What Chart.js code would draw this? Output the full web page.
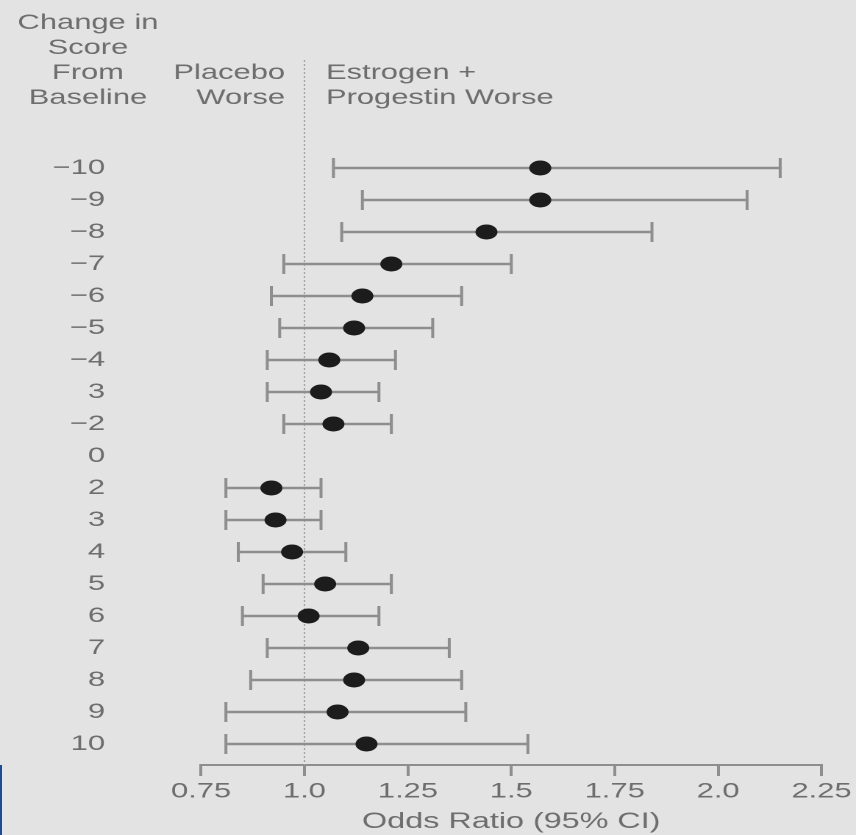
<!DOCTYPE html>
<html>
<head>
<meta charset="utf-8">
<script src="https://cdn.jsdelivr.net/npm/chart.js@4.4.1/dist/chart.umd.min.js"></script>
<style>
  html, body { margin: 0; padding: 0; background: #e3e3e3; overflow: hidden; width: 856px; height: 835px; }
  #wrap { position: absolute; left: 0; top: 0; width: 582px; height: 835px; transform: scaleX(1.4708); transform-origin: 0 0; }
  #c { display: block; }
  #edge { position: absolute; left: 0; top: 765px; width: 2px; height: 70px; background: #1b4b9b; }
</style>
</head>
<body>
<div id="wrap"><canvas id="c" width="582" height="835"></canvas></div>
<div id="edge"></div>
<script>
// ---- data ----
const categories = ["\u221210","\u22129","\u22128","\u22127","\u22126","\u22125","\u22124","3","\u22122","0","2","3","4","5","6","7","8","9","10"];
const oddsRatio = [1.57,1.57,1.44,1.21,1.14,1.12,1.06,1.04,1.07,null,0.92,0.93,0.97,1.05,1.01,1.13,1.12,1.08,1.15];
const ciLow     = [1.07,1.14,1.09,0.95,0.92,0.94,0.91,0.91,0.95,null,0.81,0.81,0.84,0.90,0.85,0.91,0.87,0.81,0.81];
const ciHigh    = [2.15,2.07,1.84,1.50,1.38,1.31,1.22,1.18,1.21,null,1.04,1.04,1.10,1.21,1.18,1.35,1.38,1.39,1.54];
const xTicks = [0.75,1.0,1.25,1.5,1.75,2.0,2.25];
const xTickLabels = ["0.75","1.0","1.25","1.5","1.75","2.0","2.25"];
const headerLeft = ["Change in","Score","From","Baseline"];
const headerMid = ["Placebo","Worse"];
const headerRight = ["Estrogen +","Progestin Worse"];
const xTitle = "Odds Ratio (95% CI)";
const refValue = 1.0;

const FONT = '"Liberation Sans", Arial, Helvetica, sans-serif';
const TEXT = '#6e6e6e';
const BAR = '#8e8e8e';

const points = [];
oddsRatio.forEach((v, i) => { if (v !== null) points.push({x: v, y: i}); });

const bgPlugin = {
  id: 'bg',
  beforeDraw(chart) {
    const ctx = chart.ctx;
    ctx.save();
    ctx.fillStyle = '#e3e3e3';
    ctx.fillRect(0, 0, chart.width, chart.height);
    ctx.restore();
  }
};

const refLinePlugin = {
  id: 'refLine',
  beforeDatasetsDraw(chart) {
    const ctx = chart.ctx, xs = chart.scales.x;
    const px = xs.getPixelForValue(refValue);
    ctx.save();
    ctx.strokeStyle = '#a4a4a4';
    ctx.lineWidth = 1;
    ctx.setLineDash([2, 2]);
    ctx.beginPath();
    ctx.moveTo(px, 60);
    ctx.lineTo(px, chart.chartArea.bottom);
    ctx.stroke();
    ctx.restore();
  }
};

const errorBarPlugin = {
  id: 'errorBars',
  beforeDatasetsDraw(chart) {
    const ctx = chart.ctx, xs = chart.scales.x, ys = chart.scales.y;
    ctx.save();
    ctx.strokeStyle = BAR;
    ctx.lineCap = 'butt';
    for (let i = 0; i < categories.length; i++) {
      if (ciLow[i] === null) continue;
      const y = ys.getPixelForValue(i);
      const x1 = xs.getPixelForValue(ciLow[i]);
      const x2 = xs.getPixelForValue(ciHigh[i]);
      ctx.lineWidth = 2.5;
      ctx.beginPath();
      ctx.moveTo(x1, y); ctx.lineTo(x2, y);
      ctx.stroke();
      ctx.lineWidth = 2;
      ctx.beginPath();
      ctx.moveTo(x1, y - 10); ctx.lineTo(x1, y + 10);
      ctx.moveTo(x2, y - 10); ctx.lineTo(x2, y + 10);
      ctx.stroke();
    }
    ctx.restore();
  }
};

const headerPlugin = {
  id: 'header',
  afterDraw(chart) {
    const ctx = chart.ctx;
    ctx.save();
    ctx.fillStyle = TEXT;
    ctx.font = '21px ' + FONT;
    ctx.textBaseline = 'middle';
    const lineY = (k) => 23 + 25 * k;
    ctx.textAlign = 'center';
    headerLeft.forEach((t, k) => ctx.fillText(t, 59.8, lineY(k)));
    ctx.textAlign = 'right';
    headerMid.forEach((t, k) => ctx.fillText(t, 193.8, lineY(k + 2)));
    ctx.textAlign = 'left';
    headerRight.forEach((t, k) => ctx.fillText(t, 221.6, lineY(k + 2)));
    ctx.restore();
  }
};

new Chart(document.getElementById('c'), {
  type: 'scatter',
  data: {
    datasets: [{
      data: points,
      backgroundColor: '#1c1c1c',
      borderWidth: 0,
      pointRadius: 7.5,
      pointHoverRadius: 7.5
    }]
  },
  options: {
    responsive: false,
    animation: false,
    devicePixelRatio: 2,
    events: [],
    layout: { padding: { top: 130, right: 21.1, bottom: 0, left: 0 } },
    plugins: { legend: { display: false }, tooltip: { enabled: false }, title: { display: false } },
    scales: {
      x: {
        type: 'linear',
        min: 0.75, max: 2.25,
        afterFit(scale) { scale.height = 70; },
        afterBuildTicks(scale) { scale.ticks = xTicks.map(v => ({value: v})); },
        border: { display: true, color: BAR, width: 2 },
        grid: { display: true, drawOnChartArea: false, drawTicks: true, tickLength: 11, color: BAR, lineWidth: 2 },
        ticks: {
          color: TEXT, font: { family: FONT, size: 21 }, padding: 3, maxRotation: 0,
          callback(v) { const k = xTicks.indexOf(v); return k >= 0 ? xTickLabels[k] : ''; }
        },
        title: { display: true, text: xTitle, color: TEXT, font: { family: FONT, size: 22 }, padding: { top: 0, bottom: 0 } }
      },
      y: {
        type: 'linear',
        reverse: true,
        min: -1.1875, max: 18.656,
        afterFit(scale) { scale.width = 136.7; },
        afterBuildTicks(scale) { scale.ticks = categories.map((_, i) => ({value: i})); },
        border: { display: false },
        grid: { display: true, drawOnChartArea: false, drawTicks: true, tickLength: 63.3, color: 'rgba(0,0,0,0)' },
        ticks: {
          color: TEXT, font: { family: FONT, size: 21 }, padding: 2, autoSkip: false,
          callback(v) { return categories[v] !== undefined ? categories[v] : ''; }
        }
      }
    }
  },
  plugins: [bgPlugin, refLinePlugin, errorBarPlugin, headerPlugin]
});
</script>
</body>
</html>
